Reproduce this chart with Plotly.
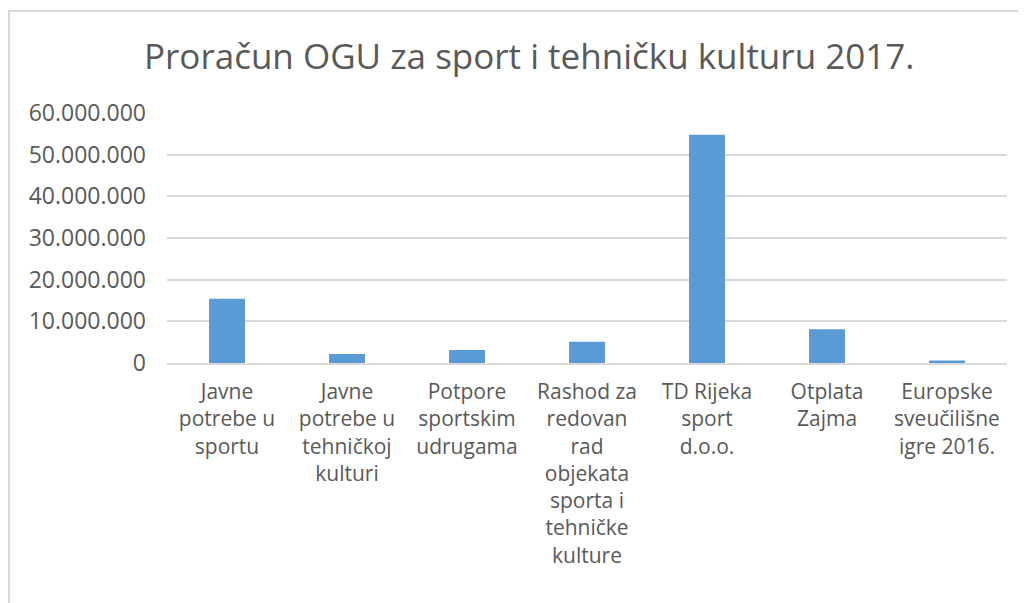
import plotly.graph_objects as go

categories = [
    "Javne<br>potrebe u<br>sportu",
    "Javne<br>potrebe u<br>tehničkoj<br>kulturi",
    "Potpore<br>sportskim<br>udrugama",
    "Rashod za<br>redovan<br>rad<br>objekata<br>sporta i<br>tehničke<br>kulture",
    "TD Rijeka<br>sport<br>d.o.o.",
    "Otplata<br>Zajma",
    "Europske<br>sveučilišne<br>igre 2016.",
]
values = [15400000, 2150000, 3100000, 5100000, 54800000, 8100000, 600000]
tick_vals = [0, 10000000, 20000000, 30000000, 40000000, 50000000, 60000000]
tick_text = ["0", "10.000.000", "20.000.000", "30.000.000", "40.000.000", "50.000.000", "60.000.000"]

fig = go.Figure(go.Bar(
    x=categories, y=values,
    marker=dict(color="#5B9BD5", line=dict(width=0)),
))

fig.update_layout(
    width=1018, height=595,
    margin=dict(l=159, r=19, t=105, b=240),
    paper_bgcolor="white", plot_bgcolor="white",
    bargap=0.7,
    showlegend=False,
    title=dict(text="Proračun OGU za sport i tehničku kulturu 2017.",
               x=0.512, xanchor="center", y=0.918, yanchor="middle",
               font=dict(family="Open Sans", size=35, color="#595959")),
    font=dict(family="Open Sans", color="#595959"),
    shapes=[dict(type="rect", xref="paper", yref="paper",
                 x0=-0.188, x1=1.2, y0=-1.5, y1=1.408,
                 line=dict(color="#D9D9D9", width=2), layer="below")],
)
fig.update_yaxes(range=[0, 60000000], tickvals=tick_vals, ticktext=tick_text,
                 showgrid=True, gridcolor="#D9D9D9", gridwidth=1.5,
                 zeroline=False, showline=False, ticks="", ticklen=0,
                 ticklabelstandoff=20,
                 tickfont=dict(size=23, color="#595959"))
fig.update_xaxes(showline=True, linecolor="#D9D9D9", linewidth=1.5, ticks="",
                 tickangle=0, ticklabelstandoff=9,
                 tickfont=dict(size=21, color="#595959"))

fig.write_html("out.html")
